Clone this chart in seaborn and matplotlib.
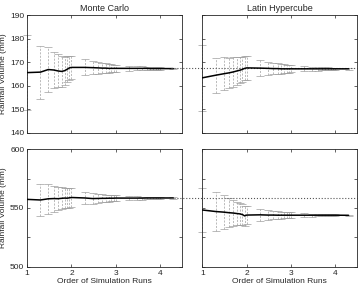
import numpy as np
import pandas as pd
import matplotlib
matplotlib.use('Agg')
import matplotlib.pyplot as plt
import seaborn as sns

# number of simulation runs (x axis is log10 of this)
runs = [10, 20, 30, 40, 50, 60, 70, 80, 90, 100,
        200, 300, 400, 500, 600, 700, 800, 900, 1000,
        2000, 3000, 4000, 5000, 6000, 7000, 8000, 9000, 10000, 20000]

# top row (smaller rainfall event)
mc_top_mean = [165.6, 165.8, 166.9, 166.7, 166.3, 166.1, 166.4, 167.0, 167.6, 167.8,
               167.8, 167.7, 167.6, 167.5, 167.5, 167.4, 167.4, 167.4, 167.4,
               167.4, 167.4, 167.4, 167.4, 167.3, 167.3, 167.3, 167.3, 167.3, 167.3]
mc_top_err = [16.0, 11.2, 9.5, 7.8, 7.0, 6.4, 5.9, 5.5, 5.2, 4.9,
              3.4, 2.8, 2.4, 2.2, 2.0, 1.85, 1.7, 1.6, 1.55,
              1.1, 0.9, 0.8, 0.7, 0.65, 0.6, 0.55, 0.52, 0.5, 0.35]
lh_top_mean = [163.4, 164.5, 165.1, 165.5, 165.9, 166.3, 166.6, 167.0, 167.4, 167.6,
               167.5, 167.4, 167.3, 167.3, 167.2, 167.2, 167.2, 167.2, 167.2,
               167.2, 167.2, 167.2, 167.2, 167.2, 167.2, 167.2, 167.2, 167.2, 167.2]
lh_top_err = [14.0, 7.4, 7.0, 6.5, 6.2, 5.8, 5.5, 5.3, 5.1, 5.0,
              3.5, 2.9, 2.4, 2.2, 2.0, 1.85, 1.7, 1.6, 1.5,
              1.1, 0.9, 0.8, 0.7, 0.65, 0.6, 0.55, 0.52, 0.5, 0.35]

# bottom row (larger rainfall event)
mc_bot_mean = [557.3, 556.8, 557.8, 558.0, 557.9, 558.2, 558.4, 558.3, 558.6, 558.9,
               558.5, 558.0, 558.1, 558.2, 558.2, 558.3, 558.3, 558.3, 558.4,
               558.4, 558.4, 558.4, 558.5, 558.5, 558.5, 558.5, 558.5, 558.5, 558.5]
mc_bot_err = [np.nan, 13.8, 12.5, 11.0, 10.0, 9.3, 8.8, 8.4, 8.2, 8.0,
              5.4, 4.4, 3.8, 3.4, 3.1, 2.9, 2.7, 2.6, 2.5,
              1.7, 1.4, 1.2, 1.1, 1.0, 0.95, 0.9, 0.85, 0.8, 0.55]
lh_bot_mean = [548.3, 547.0, 546.5, 546.0, 545.7, 545.3, 545.0, 544.4, 543.3, 544.0,
               544.2, 544.0, 544.0, 543.9, 543.9, 543.9, 543.9, 543.9, 543.9,
               543.9, 543.9, 543.9, 543.9, 543.9, 543.9, 543.9, 543.9, 543.9, 543.8]
lh_bot_err = [19.0, 16.5, 14.5, 12.5, 11.0, 10.0, 9.3, 8.8, 8.3, 7.8,
              5.2, 4.3, 3.7, 3.3, 3.0, 2.8, 2.6, 2.5, 2.4,
              1.6, 1.3, 1.1, 1.0, 0.9, 0.85, 0.8, 0.75, 0.7, 0.5]

true_top = 167.5
true_bot = 558.2

titles = ['Monte Carlo', 'Latin Hypercube']
ylabel = 'Rainfall Volume (mm)'
xlabel = 'Order of Simulation Runs'

sns.set_style('ticks')
plt.rcParams['font.family'] = ['Liberation Sans', 'DejaVu Sans']
plt.rcParams['font.size'] = 6

fig, axes = plt.subplots(2, 2, figsize=(3.62, 2.84), dpi=100)
fig.subplots_adjust(left=0.075, right=0.986, top=0.947, bottom=0.06,
                    wspace=0.135, hspace=0.136)

x = np.log10(runs)
panels = [
    (axes[0, 0], mc_top_mean, mc_top_err, None),
    (axes[0, 1], lh_top_mean, lh_top_err, true_top),
    (axes[1, 0], mc_bot_mean, mc_bot_err, None),
    (axes[1, 1], lh_bot_mean, lh_bot_err, true_bot),
]

for ax, mean, err, true_val in panels:
    df = pd.DataFrame({'x': x, 'mean': mean, 'err': err})
    eb = ax.errorbar(df['x'], df['mean'], yerr=df['err'], fmt='none',
                     ecolor='#a0a0a0', elinewidth=0.5, capsize=2.8,
                     capthick=0.5, clip_on=False, zorder=1)
    eb[-1][0].set_linestyle((0, (3, 2)))
    sns.lineplot(data=df, x='x', y='mean', ax=ax, color='black',
                 linewidth=1.1, zorder=3)
    if true_val is not None:
        ax.plot([0.3, 4.5], [true_val, true_val], color='#555555',
                linestyle=':', linewidth=0.8, clip_on=False, zorder=2)
    ax.set_xlim(1, 4.49)
    ax.set_xticks([1, 2, 3, 4])
    ax.tick_params(direction='in', length=2.5, width=0.5, top=True, right=True,
                   labelsize=6, pad=2)
    ax.tick_params(which='minor', direction='in', length=2.5, width=0.5,
                   top=True, right=True)
    for s in ax.spines.values():
        s.set_linewidth(0.6)
    ax.set_xlabel('')
    ax.set_ylabel('')

for ax in axes[0]:
    ax.set_ylim(140, 190)
    ax.set_yticks([140, 150, 160, 170, 180, 190])
    ax.set_xticklabels([])
for ax in axes[1]:
    ax.set_ylim(500, 600)
    ax.set_yticks([500, 550, 600])
    ax.set_yticks([525, 575], minor=True)
    ax.set_xlabel(xlabel, fontsize=6, labelpad=1)
for ax in axes[:, 1]:
    ax.set_yticklabels([])
for ax in axes[:, 0]:
    ax.set_ylabel(ylabel, fontsize=6, labelpad=2)

axes[0, 0].set_title(titles[0], fontsize=6.5, pad=3)
axes[0, 1].set_title(titles[1], fontsize=6.5, pad=3)

fig.savefig('out.png', dpi=100)
